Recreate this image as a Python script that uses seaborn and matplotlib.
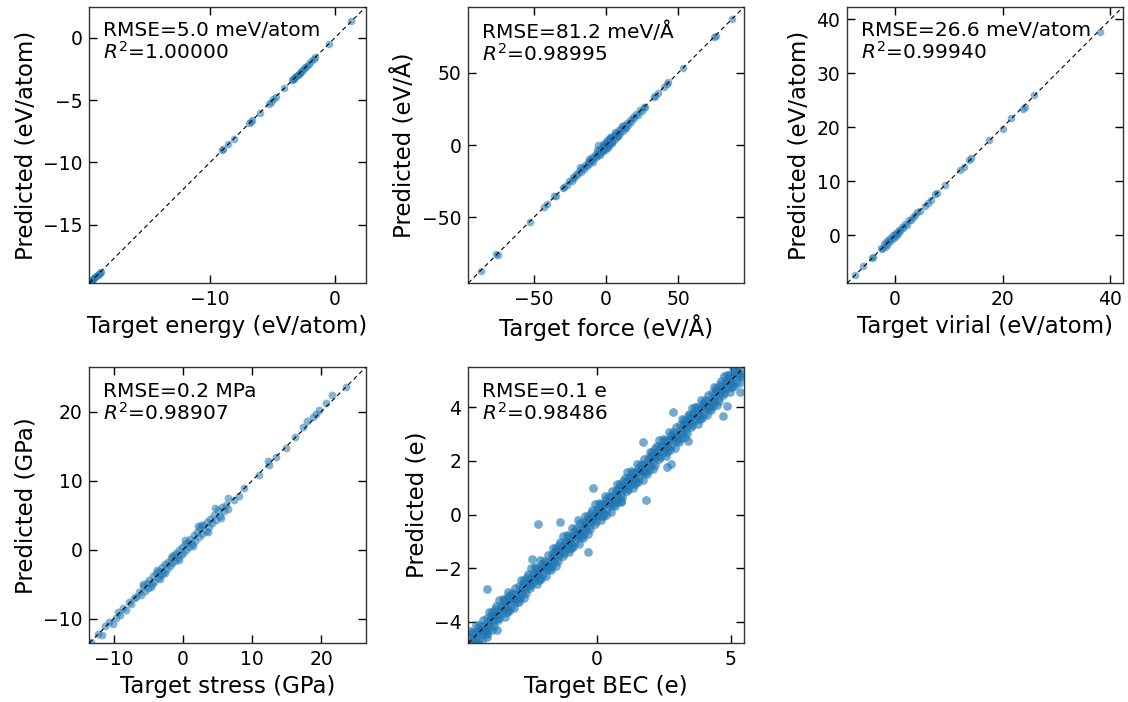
import matplotlib
matplotlib.use("Agg")
import matplotlib.pyplot as plt
import seaborn as sns
import pandas as pd

# ---------------- data ----------------
energy_target = [-19.62, -19.55, -19.48, -19.40, -19.33, -19.25, -19.17, -19.08, -18.99, -18.90, -18.82, -18.75,
                 -9.05, -8.95, -8.55, -8.10, -6.85, -6.72, -6.62, -6.00, -5.30, -5.15, -4.95, -4.75, -4.05,
                 -3.42, -3.35, -3.28, -3.20, -3.10, -3.00, -2.92, -2.83, -2.72, -2.62, -2.50, -2.38, -2.25,
                 -2.10, -1.90, -1.72, -1.58, -0.52, 1.28]
energy_pred = [-19.60, -19.56, -19.47, -19.41, -19.32, -19.26, -19.16, -19.09, -18.98, -18.91, -18.81, -18.76,
               -9.04, -8.96, -8.54, -8.11, -6.84, -6.73, -6.61, -6.01, -5.29, -5.16, -4.94, -4.76, -4.04,
               -3.43, -3.34, -3.29, -3.19, -3.11, -2.99, -2.93, -2.82, -2.73, -2.61, -2.51, -2.37, -2.26,
               -2.09, -1.91, -1.71, -1.59, -0.51, 1.29]

force_target = [-27.0, -25.5, -24.0, -23.0, -22.0, -21.0, -20.0, -19.0, -18.3, -17.5, -16.5, -15.5, -14.5,
                -13.5, -12.5, -11.8, -11.0, -10.2, -9.5, -8.8, -8.0, -7.3, -6.6, -6.0, -5.3, -4.7, -4.1,
                -3.5, -3.0, -2.5, -2.0, -1.5, -1.0, -0.5, 0.0, 0.4, 0.9, 1.3, 1.8, 2.3, 2.8, 3.3, 3.9, 4.5,
                5.1, 5.8, 6.5, 7.2, 8.0, 8.8, 9.6, 10.5, 11.4, 12.3, 13.2, 14.2, 15.2, 16.3, 17.4, 18.5,
                19.6, 20.8, 22.0, 23.3, 24.6, 26.0, 27.0,
                -12.0, -9.0, -6.5, -4.0, -2.2, -0.8, 0.6, 1.6, 3.0, 4.2, 6.0, 8.5, 10.8, 14.0,
                -87, -76, -75, -53, -43, -41, -36, -35, -30, -29, 33, 34, 36, 40, 42, 43, 53, 75, 76, 87]
force_pred = [-27.8, -24.9, -24.6, -22.1, -22.9, -20.2, -20.8, -18.1, -15.1, -18.4, -15.8, -16.3, -13.6,
              -14.4, -11.7, -12.9, -10.1, -11.0, -8.4, -9.9, -6.9, -8.5, -5.2, -7.4, 0.0, -3.2, -5.6,
              -1.9, -4.6, -0.8, -3.7, 0.3, -2.8, 1.4, -1.6, 2.3, -0.9, 3.1, 0.2, 4.0, 1.0, 5.2, 2.1, 6.3,
              3.2, 7.4, 4.8, 8.6, 6.4, 10.1, 8.2, 11.6, 9.9, 13.5, 11.9, 15.3, 13.8, 17.1, 16.2, 19.4,
              18.6, 21.5, 21.1, 24.0, 23.8, 26.5, 26.3,
              -10.0, -11.5, -3.8, -6.8, 1.0, -3.5, 3.6, -1.8, 5.8, 1.4, 8.9, 6.0, 13.0, 12.0,
              -87.5, -75.5, -75.8, -53.4, -42.6, -40.8, -35.2, -35.6, -29.8, -29.3, 33.0, 33.8, 36.2,
              40.3, 42.2, 43.4, 53.3, 74.6, 75.4, 87.0]

virial_target = [-2.6, -2.3, -2.0, -1.8, -1.6, -1.4, -1.2, -1.0, -0.8, -0.6, -0.4, -0.2, 0.0, 0.2, 0.4, 0.6,
                 0.8, 1.0, 1.3, 1.6, 1.9, 2.2, 2.6, 3.0, 3.4, 3.8, 4.2,
                 -7.4, -5.9, -4.3, -4.0, 4.7, 5.6, 6.2, 6.8, 7.5, 7.8, 9.3, 12.1, 12.8, 13.7, 14.1, 17.5,
                 20.0, 21.5, 23.8, 24.1, 25.9, 38.0]
virial_pred = [-2.3, -2.5, -1.6, -2.1, -1.3, -1.7, -0.9, -1.3, -0.5, -0.8, 0.0, -0.4, 0.3, -0.1, 0.7, 0.3,
               1.1, 0.8, 1.6, 1.4, 2.2, 1.9, 2.8, 2.9, 3.5, 3.7, 4.4,
               -7.3, -5.7, -4.2, -3.9, 4.5, 5.5, 6.1, 6.6, 7.6, 7.8, 9.4, 12.2, 12.7, 13.9, 14.3, 17.7,
               19.8, 21.7, 23.5, 23.7, 26.0, 37.6]

stress_target = [-6.3, -6.0, -5.7, -5.5, -5.2, -5.0, -4.8, -4.5, -4.3, -4.1, -3.9, -3.6, -3.4, -3.2, -3.0,
                 -2.8, -2.5, -2.3, -2.1, -1.9, -1.7, -1.5, -1.3, -1.1, -0.9, -0.7, -0.5, -0.3, -0.1, 0.1,
                 0.3, 0.5, 0.7, 0.9, 1.1, 1.3, 1.6, 1.8, 2.0, 2.3, 2.5, 2.8, 3.0, 3.3, 3.5, 3.8, 4.0, 4.3,
                 4.5, 4.8, 5.1, 5.4, 5.7, 6.0, 6.3,
                 -5.8, -4.6, -3.7, -2.6, -1.6, -0.6, 0.4, 1.5, 2.6, 3.6, 4.6, 5.5, 2.2, -3.3,
                 -13.2, -12.3, -11.6, -11.2, -10.6, -10.1, -9.6, -9.3, -9.0, -8.6, -8.2, -7.8, -7.5, -7.1, -6.7,
                 6.6, 6.6, 7.4, 8.1, 8.9, 11.0, 12.4, 12.5, 13.5, 15.0, 16.3, 17.4, 18.0, 18.8, 19.2, 19.7,
                 20.7, 21.6, 23.6]
stress_pred = [-6.1, -6.5, -5.2, -5.9, -4.8, -5.5, -4.3, -5.0, -3.8, -4.6, -3.3, -4.1, -3.0, -3.7, -2.5,
               -3.3, -2.0, -2.8, -1.7, -2.4, -1.2, -1.9, -0.8, -1.6, -0.4, -1.2, 0.0, -0.7, 0.4, -0.4,
               0.8, 0.0, 1.2, 0.4, 1.6, 0.8, 2.1, 1.3, 2.6, 1.8, 3.1, 2.3, 3.6, 2.8, 4.1, 3.3, 4.5, 3.9,
               5.0, 4.3, 5.7, 4.9, 6.2, 5.6, 6.5,
               -5.0, -5.4, -2.9, -3.4, -0.9, -1.5, 1.4, 0.6, 3.6, 2.6, 6.1, 4.6, 3.4, -4.2,
               -13.4, -12.2, -12.4, -11.0, -10.5, -10.7, -9.9, -9.0, -9.5, -8.5, -8.7, -7.6, -7.9, -7.0, -6.9,
               7.5, 5.9, 7.2, 7.8, 8.9, 10.9, 12.9, 12.3, 13.5, 14.8, 16.3, 17.8, 18.7, 19.2, 19.7, 20.3,
               21.3, 22.5, 23.6]

bec_target = [
    -4.75, -4.69, -4.66, -4.59, -4.56, -4.49, -4.44, -4.41, -4.34, -4.31, -4.24, -4.19,
    -4.15, -4.09, -4.06, -3.99, -3.96, -3.89, -3.84, -3.81, -3.74, -3.71, -3.64, -3.59,
    -3.55, -3.49, -3.46, -3.39, -3.36, -3.29, -3.24, -3.21, -3.14, -3.11, -3.04, -2.99,
    -2.95, -2.89, -2.86, -2.79, -2.76, -2.69, -2.64, -2.61, -2.54, -2.51, -2.44, -2.39,
    -2.35, -2.29, -2.26, -2.19, -2.16, -2.09, -2.04, -2.01, -1.94, -1.91, -1.84, -1.79,
    -1.75, -1.69, -1.66, -1.59, -1.56, -1.49, -1.44, -1.41, -1.34, -1.31, -1.24, -1.19,
    -1.15, -1.09, -1.06, -0.99, -0.96, -0.89, -0.84, -0.81, -0.74, -0.71, -0.64, -0.59,
    -0.55, -0.49, -0.46, -0.39, -0.36, -0.29, -0.24, -0.21, -0.14, -0.11, -0.04, 0.01,
    0.05, 0.11, 0.14, 0.21, 0.24, 0.31, 0.36, 0.39, 0.46, 0.49, 0.56, 0.61,
    0.65, 0.71, 0.74, 0.81, 0.84, 0.91, 0.96, 0.99, 1.06, 1.09, 1.16, 1.21,
    1.25, 1.31, 1.34, 1.41, 1.44, 1.51, 1.56, 1.59, 1.66, 1.69, 1.76, 1.81,
    1.85, 1.91, 1.94, 2.01, 2.04, 2.11, 2.16, 2.19, 2.26, 2.29, 2.36, 2.41,
    2.45, 2.51, 2.54, 2.61, 2.64, 2.71, 2.76, 2.79, 2.86, 2.89, 2.96, 3.01,
    3.05, 3.11, 3.14, 3.21, 3.24, 3.31, 3.36, 3.39, 3.46, 3.49, 3.56, 3.61,
    3.65, 3.71, 3.74, 3.81, 3.84, 3.91, 3.96, 3.99, 4.06, 4.09, 4.16, 4.21,
    4.25, 4.31, 4.34, 4.41, 4.44, 4.51, 4.56, 4.59, 4.66, 4.69, 4.76, 4.81,
    4.85, 4.91, 4.94, 5.01, 5.04, 5.11, 5.16, 5.19, 5.26, 5.29, 5.36, 5.41,
    -4.72, -4.67, -4.63, -4.61, -4.53, -4.51, -4.47, -4.38, -4.36, -4.28, -4.26, -4.22,
    -4.12, -4.07, -4.03, -4.01, -3.93, -3.91, -3.87, -3.78, -3.76, -3.68, -3.66, -3.62,
    -3.52, -3.47, -3.43, -3.41, -3.33, -3.31, -3.27, -3.18, -3.16, -3.08, -3.06, -3.02,
    -2.92, -2.87, -2.83, -2.81, -2.73, -2.71, -2.67, -2.58, -2.56, -2.48, -2.46, -2.42,
    -2.32, -2.27, -2.23, -2.21, -2.13, -2.11, -2.07, -1.98, -1.96, -1.88, -1.86, -1.82,
    -1.72, -1.67, -1.63, -1.61, -1.53, -1.51, -1.47, -1.38, -1.36, -1.28, -1.26, -1.22,
    -1.12, -1.07, -1.03, -1.01, -0.93, -0.91, -0.87, -0.78, -0.76, -0.68, -0.66, -0.62,
    -0.52, -0.47, -0.43, -0.41, -0.33, -0.31, -0.27, -0.18, -0.16, -0.08, -0.06, -0.02,
    0.08, 0.13, 0.17, 0.19, 0.27, 0.29, 0.33, 0.42, 0.44, 0.52, 0.54, 0.58,
    0.68, 0.73, 0.77, 0.79, 0.87, 0.89, 0.93, 1.02, 1.04, 1.12, 1.14, 1.18,
    1.28, 1.33, 1.37, 1.39, 1.47, 1.49, 1.53, 1.62, 1.64, 1.72, 1.74, 1.78,
    1.88, 1.93, 1.97, 1.99, 2.07, 2.09, 2.13, 2.22, 2.24, 2.32, 2.34, 2.38,
    2.48, 2.53, 2.57, 2.59, 2.67, 2.69, 2.73, 2.82, 2.84, 2.92, 2.94, 2.98,
    3.08, 3.13, 3.17, 3.19, 3.27, 3.29, 3.33, 3.42, 3.44, 3.52, 3.54, 3.58,
    3.68, 3.73, 3.77, 3.79, 3.87, 3.89, 3.93, 4.02, 4.04, 4.12, 4.14, 4.18,
    4.28, 4.33, 4.37, 4.39, 4.47, 4.49, 4.53, 4.62, 4.64, 4.72, 4.74, 4.78,
    4.88, 4.93, 4.97, 4.99, 5.07, 5.09, 5.13, 5.22, 5.24, 5.32, 5.34, 5.38,
    -2.18, -4.10, -0.13, 1.83, -0.31, 1.74, 2.61, 2.79, 4.72, 4.87, 5.34, -3.71, -4.10, -1.37,
    -2.43, 3.42, 2.86, -3.30, 0.90, -0.70]
bec_pred = [
    -4.63, -4.87, -4.40, -4.64, -4.85, -4.41, -4.23, -4.64, -4.32, -4.43, -3.93, -4.45,
    -4.23, -3.87, -4.33, -3.94, -3.80, -4.03, -4.15, -3.53, -3.76, -3.60, -3.85, -3.41,
    -3.43, -3.67, -3.20, -3.44, -3.65, -3.21, -3.03, -3.44, -3.12, -3.23, -2.73, -3.25,
    -3.03, -2.67, -3.13, -2.74, -2.60, -2.83, -2.95, -2.33, -2.56, -2.40, -2.65, -2.21,
    -2.23, -2.47, -2.00, -2.24, -2.45, -2.01, -1.83, -2.24, -1.92, -2.03, -1.53, -2.05,
    -1.83, -1.47, -1.93, -1.54, -1.40, -1.63, -1.75, -1.13, -1.36, -1.20, -1.45, -1.01,
    -1.03, -1.27, -0.80, -1.04, -1.25, -0.81, -0.63, -1.04, -0.72, -0.83, -0.33, -0.85,
    -0.63, -0.27, -0.73, -0.34, -0.20, -0.43, -0.55, 0.07, -0.16, 0.00, -0.25, 0.19,
    0.17, -0.07, 0.40, 0.16, -0.05, 0.39, 0.57, 0.16, 0.48, 0.37, 0.87, 0.35,
    0.57, 0.93, 0.47, 0.86, 1.00, 0.77, 0.65, 1.27, 1.04, 1.20, 0.95, 1.39,
    1.37, 1.13, 1.60, 1.36, 1.15, 1.59, 1.77, 1.36, 1.68, 1.57, 2.07, 1.55,
    1.77, 2.13, 1.67, 2.06, 2.20, 1.97, 1.85, 2.47, 2.24, 2.40, 2.15, 2.59,
    2.57, 2.33, 2.80, 2.56, 2.35, 2.79, 2.97, 2.56, 2.88, 2.77, 3.27, 2.75,
    2.97, 3.33, 2.87, 3.26, 3.40, 3.17, 3.05, 3.67, 3.44, 3.60, 3.35, 3.79,
    3.77, 3.53, 4.00, 3.76, 3.55, 3.99, 4.17, 3.76, 4.08, 3.97, 4.47, 3.95,
    4.17, 4.53, 4.07, 4.46, 4.60, 4.37, 4.25, 4.87, 4.64, 4.80, 4.55, 4.99,
    4.97, 4.73, 5.20, 4.96, 4.75, 5.19, 5.37, 4.96, 5.28, 5.17, 5.67, 5.15,
    -4.37, -4.69, -5.01, -4.46, -4.73, -4.11, -4.80, -4.32, -4.12, -4.70, -4.16, -4.37,
    -4.48, -4.03, -3.65, -4.18, -3.66, -4.31, -3.74, -3.86, -3.43, -3.94, -3.21, -3.62,
    -3.17, -3.49, -3.81, -3.26, -3.53, -2.91, -3.60, -3.12, -2.92, -3.50, -2.96, -3.17,
    -3.28, -2.83, -2.45, -2.98, -2.46, -3.11, -2.54, -2.66, -2.23, -2.74, -2.01, -2.42,
    -1.97, -2.29, -2.61, -2.06, -2.33, -1.71, -2.40, -1.92, -1.72, -2.30, -1.76, -1.97,
    -2.08, -1.63, -1.25, -1.78, -1.26, -1.91, -1.34, -1.46, -1.03, -1.54, -0.81, -1.22,
    -0.77, -1.09, -1.41, -0.86, -1.13, -0.51, -1.20, -0.72, -0.52, -1.10, -0.56, -0.77,
    -0.88, -0.43, -0.05, -0.58, -0.06, -0.71, -0.14, -0.26, 0.17, -0.34, 0.39, -0.02,
    0.43, 0.11, -0.21, 0.34, 0.07, 0.69, 0.00, 0.48, 0.68, 0.10, 0.64, 0.43,
    0.32, 0.77, 1.15, 0.62, 1.14, 0.49, 1.06, 0.94, 1.37, 0.86, 1.59, 1.18,
    1.63, 1.31, 0.99, 1.54, 1.27, 1.89, 1.20, 1.68, 1.88, 1.30, 1.84, 1.63,
    1.52, 1.97, 2.35, 1.82, 2.34, 1.69, 2.26, 2.14, 2.57, 2.06, 2.79, 2.38,
    2.83, 2.51, 2.19, 2.74, 2.47, 3.09, 2.40, 2.88, 3.08, 2.50, 3.04, 2.83,
    2.72, 3.17, 3.55, 3.02, 3.54, 2.89, 3.46, 3.34, 3.77, 3.26, 3.99, 3.58,
    4.03, 3.71, 3.39, 3.94, 3.67, 4.29, 3.60, 4.08, 4.28, 3.70, 4.24, 4.03,
    3.92, 4.37, 4.75, 4.22, 4.74, 4.09, 4.66, 4.54, 4.97, 4.46, 5.19, 4.78,
    5.23, 4.91, 4.59, 5.14, 4.87, 5.49, 4.80, 5.28, 5.48, 4.90, 5.44, 5.23,
    -0.35, -2.77, 0.99, 0.54, -1.41, 2.70, 1.79, 1.87, 3.69, 4.07, 4.57, -4.33, -4.58, -0.29,
    -1.65, 2.76, 3.82, -3.05, 0.45, -0.20]

x_labels = ["Target energy (eV/atom)", "Target force (eV/Å)", "Target virial (eV/atom)",
            "Target stress (GPa)", "Target BEC (e)"]
y_labels = ["Predicted (eV/atom)", "Predicted (eV/Å)", "Predicted (eV/atom)",
            "Predicted (GPa)", "Predicted (e)"]
rmse_texts = ["RMSE=5.0 meV/atom", "RMSE=81.2 meV/Å", "RMSE=26.6 meV/atom", "RMSE=0.2 MPa", "RMSE=0.1 e"]
r2_texts = ["1.00000", "0.98995", "0.99940", "0.98907", "0.98486"]

# ---------------- styling / layout ----------------
sns.set_style("white")
plt.rcParams['font.family'] = ['DejaVu Sans']
plt.rcParams.update({"text.color": "black", "axes.labelcolor": "black",
                     "xtick.color": "black", "ytick.color": "black"})

W, H = 1128, 702
fig = plt.figure(figsize=(W / 100, H / 100), dpi=100)

# (left, top, right, bottom) in pixels
boxes = [(89.3, 7, 365.7, 283), (468.3, 7, 744, 283), (847.3, 7, 1122.7, 283),
         (89.3, 367.3, 365.7, 643), (468.3, 367.3, 744, 643)]
limits = [(-19.65, 2.45), (-95.5, 95.5), (-8.8, 42.3), (-13.5, 26.45), (-4.8, 5.5)]
datasets = [(energy_target, energy_pred), (force_target, force_pred), (virial_target, virial_pred),
            (stress_target, stress_pred), (bec_target, bec_pred)]
marker_sizes = [30, 30, 30, 32, 40]
marker_alpha = [0.55, 0.55, 0.55, 0.55, 0.62]

for i, ((l, t, r, b), lim, (xt, yp)) in enumerate(zip(boxes, limits, datasets)):
    ax = fig.add_axes([l / W, 1 - b / H, (r - l) / W, (b - t) / H])
    df = pd.DataFrame({"target": xt, "pred": yp})
    sns.scatterplot(data=df, x="target", y="pred", ax=ax, s=marker_sizes[i], alpha=marker_alpha[i],
                    color="#1f77b4", linewidth=0, zorder=2)
    ax.set_xlim(lim)
    ax.set_ylim(lim)
    ax.plot(lim, lim, color="black", linestyle="--", linewidth=0.8, dashes=(4, 3), zorder=3)
    ax.set_xlabel(x_labels[i], fontsize=16.5, labelpad=4)
    ax.set_ylabel(y_labels[i], fontsize=16.5, labelpad=4)
    ax.tick_params(direction="in", bottom=True, left=True, top=True, right=True,
                   length=6, width=1, labelsize=13.5, color="black", pad=5)
    for sp in ax.spines.values():
        sp.set_color("#333333")
        sp.set_linewidth(1.0)
    ax.text(0.05, 0.948, rmse_texts[i] + "\n" + r"$R^2$=" + r2_texts[i],
            transform=ax.transAxes, ha="left", va="top", fontsize=14.5, linespacing=1.05)

fig.savefig("out.png", dpi=100)
